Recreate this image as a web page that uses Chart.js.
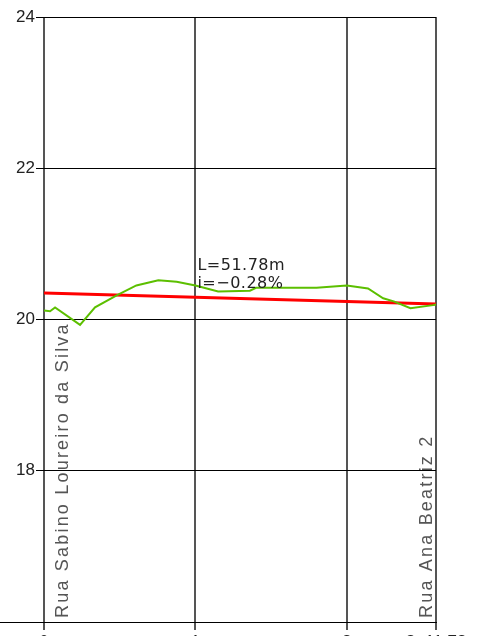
<!DOCTYPE html>
<html>
<head>
<meta charset="utf-8">
<script src="https://cdn.jsdelivr.net/npm/chart.js@4"></script>
<style>
  html, body { margin: 0; padding: 0; background: #fff; overflow: hidden; }
  #wrap { width: 486px; height: 636px; overflow: hidden; }
</style>
</head>
<body>
<div id="wrap"><canvas id="profile" width="486" height="660"></canvas></div>
<script>
// --- Data ---
// stations in units of 20 m, 51.78 m total
const stationTicks = [0, 1, 2, 2.589];
const stationLabels = ['0', '1', '2', '2+11.78'];
const elevationTicks = [16, 18, 20, 22, 24];

// terrain profile (green)
const terrainX = [0, 0.04, 0.073, 0.238, 0.337, 0.48, 0.61, 0.755, 0.876, 1.0, 1.15, 1.36, 1.40, 1.80, 2.0, 2.14, 2.24, 2.31, 2.42, 2.57, 2.589];
const terrainY = [20.12, 20.11, 20.16, 19.93, 20.16, 20.32, 20.45, 20.52, 20.50, 20.45, 20.37, 20.38, 20.42, 20.42, 20.45, 20.41, 20.28, 20.24, 20.15, 20.19, 20.20];

// design grade (red)
const gradeX = [0, 2.589];
const gradeY = [20.35, 20.205];

const gradeText = ['L=51.78m', 'i=\u22120.28%'];
const startStreet = 'Rua Sabino Loureiro da Silva';
const endStreet = 'Rua Ana Beatriz 2';

const toPoints = (xs, ys) => xs.map((x, i) => ({ x, y: ys[i] }));

// --- Annotations (street names, grade label) ---
const labelsPlugin = {
    id: 'profileLabels',
    afterDraw(chart) {
        const { ctx, chartArea, scales } = chart;
        const xs = scales.x, ys = scales.y;
        ctx.save();

        // bottom line runs out to the left edge
        ctx.strokeStyle = '#000';
        ctx.lineWidth = 1;
        ctx.beginPath();
        ctx.moveTo(0, chartArea.bottom + 0.5);
        ctx.lineTo(chartArea.right, chartArea.bottom + 0.5);
        ctx.stroke();

        // grade label
        ctx.fillStyle = '#222';
        ctx.font = '16px "DejaVu Sans", sans-serif';
        ctx.letterSpacing = '0.5px';
        ctx.textAlign = 'left';
        ctx.textBaseline = 'alphabetic';
        const lx = xs.getPixelForValue(1) + 2;
        ctx.fillText(gradeText[0], lx, ys.getPixelForValue(20.655));
        ctx.fillText(gradeText[1], lx, ys.getPixelForValue(20.41));

        // vertical street names
        ctx.fillStyle = '#555';
        ctx.font = '18px "Liberation Sans", Arial, sans-serif';
        ctx.letterSpacing = '2.2px';
        const drawVertical = (text, x, y) => {
            ctx.save();
            ctx.translate(x, y);
            ctx.rotate(-Math.PI / 2);
            ctx.fillText(text, 0, 0);
            ctx.restore();
        };
        drawVertical(startStreet, xs.getPixelForValue(0) + 24, chartArea.bottom - 4);
        drawVertical(endStreet, xs.getPixelForValue(2.589) - 4, chartArea.bottom - 4);

        ctx.restore();
    }
};

// --- Chart ---
const ctx = document.getElementById('profile').getContext('2d');
new Chart(ctx, {
    type: 'scatter',
    data: {
        datasets: [
            {
                label: 'Terreno',
                data: toPoints(terrainX, terrainY),
                showLine: true,
                borderColor: '#5cbf00',
                borderWidth: 2,
                pointRadius: 0,
                tension: 0
            },
            {
                label: 'Greide',
                data: toPoints(gradeX, gradeY),
                showLine: true,
                borderColor: '#ff0000',
                borderWidth: 3,
                pointRadius: 0
            }
        ]
    },
    options: {
        responsive: false,
        animation: false,
        layout: { padding: { top: 17, right: 50, left: 0, bottom: 0 } },
        plugins: {
            legend: { display: false },
            tooltip: { enabled: false }
        },
        scales: {
            x: {
                type: 'linear',
                min: 0,
                max: 2.589,
                afterBuildTicks: scale => {
                    scale.ticks = stationTicks.map(v => ({ value: v }));
                },
                afterFit: scale => { scale.height = 38; },
                ticks: {
                    color: '#222',
                    padding: 2,
                    maxRotation: 0,
                    autoSkip: false,
                    font: { family: '"Liberation Sans", Arial, sans-serif', size: 17 },
                    callback: (v, i) => stationLabels[i]
                },
                grid: { color: '#555', lineWidth: 2, tickLength: 8 },
                border: { color: '#000', width: 1 }
            },
            y: {
                min: 16,
                max: 24,
                afterBuildTicks: scale => {
                    scale.ticks = elevationTicks.map(v => ({ value: v }));
                },
                afterFit: scale => { scale.width = 44; },
                ticks: {
                    color: '#222',
                    padding: 1,
                    font: { family: '"Liberation Sans", Arial, sans-serif', size: 17 },
                    callback: v => (v === 16 ? '' : String(v))
                },
                grid: { color: '#000', lineWidth: 1, tickLength: 8 },
                border: { display: false }
            }
        }
    },
    plugins: [labelsPlugin]
});
</script>
</body>
</html>
